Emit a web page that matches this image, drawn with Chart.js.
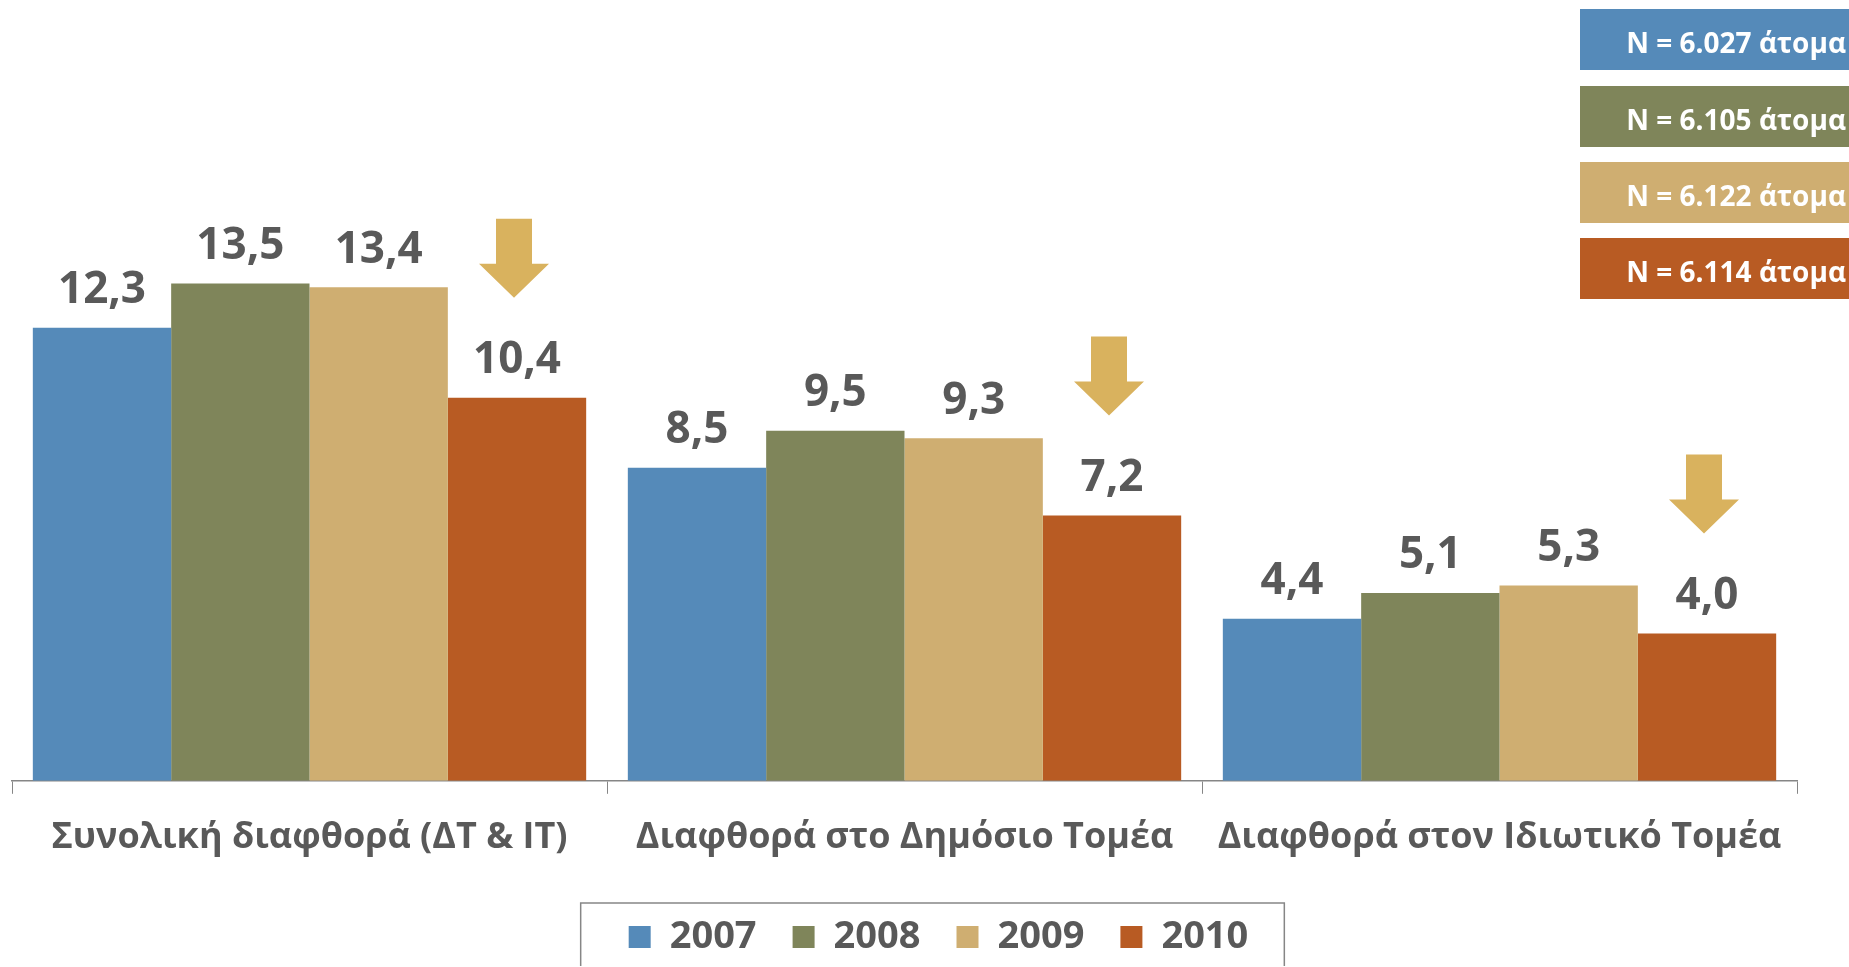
<!DOCTYPE html>
<html lang="el">
<head>
  <meta charset="UTF-8">
  <title>Διαφθορά 2007-2010</title>
  <script src="https://cdn.jsdelivr.net/npm/chart.js"></script>
  <style>
    html, body { margin: 0; padding: 0; background: #fff; overflow: hidden; }
    #wrap { width: 1849px; height: 966px; position: relative; }
  </style>
</head>
<body>
<div id="wrap"><canvas id="grafico"></canvas></div>

<script>
// dados
const categorias = ['Συνολική διαφθορά (ΔΤ & ΙΤ)', 'Διαφθορά στο Δημόσιο Τομέα', 'Διαφθορά στον Ιδιωτικό Τομέα'];
const anos = ['2007', '2008', '2009', '2010'];
const v2007 = [12.3, 8.5, 4.4];
const v2008 = [13.5, 9.5, 5.1];
const v2009 = [13.4, 9.3, 5.3];
const v2010 = [10.4, 7.2, 4.0];
const amostras = ['N = 6.027 άτομα', 'N = 6.105 άτομα', 'N = 6.122 άτομα', 'N = 6.114 άτομα'];
const cores = ['#558AB9', '#7F855A', '#CFAE71', '#B85B23'];
const corSeta = '#D9B25E';
const corTexto = '#595959';
const fonte = '"Open Sans", "Noto Sans", sans-serif';

const series = [v2007, v2008, v2009, v2010];

// rótulos de valor em cima das barras
const rotulos = {
  id: 'rotulos',
  afterDatasetsDraw(chart) {
    const ctx = chart.ctx;
    ctx.save();
    ctx.fillStyle = corTexto;
    ctx.font = 'bold 44px ' + fonte;
    ctx.textAlign = 'center';
    ctx.textBaseline = 'bottom';
    chart.data.datasets.forEach((ds, i) => {
      chart.getDatasetMeta(i).data.forEach((bar, j) => {
        const txt = ds.data[j].toFixed(1).replace('.', ',');
        ctx.fillText(txt, bar.x, bar.y - 15);
      });
    });
    ctx.restore();
  }
};

// setas de descida sobre as barras de 2010
const setas = {
  id: 'setas',
  afterDatasetsDraw(chart) {
    const ctx = chart.ctx;
    const meta = chart.getDatasetMeta(3);
    ctx.save();
    ctx.fillStyle = corSeta;
    meta.data.forEach(bar => {
      const cx = bar.x - 3;
      const base = bar.y - 100;
      ctx.beginPath();
      ctx.moveTo(cx - 18, base - 79);
      ctx.lineTo(cx + 18, base - 79);
      ctx.lineTo(cx + 18, base - 34);
      ctx.lineTo(cx + 35, base - 34);
      ctx.lineTo(cx, base);
      ctx.lineTo(cx - 35, base - 34);
      ctx.lineTo(cx - 18, base - 34);
      ctx.closePath();
      ctx.fill();
    });
    ctx.restore();
  }
};

// a legenda fica um pouco à direita do centro
const deslocaLegenda = {
  id: 'deslocaLegenda',
  afterLayout(chart) {
    chart.legend.left += 34;
    chart.legend.right += 34;
  }
};

// caixas com o tamanho da amostra + moldura da legenda
const extras = {
  id: 'extras',
  afterDraw(chart) {
    const ctx = chart.ctx;
    ctx.save();
    const topos = [9, 86, 162, 238];
    amostras.forEach((t, i) => {
      ctx.fillStyle = cores[i];
      ctx.fillRect(1580, topos[i], 280, 61);
      ctx.fillStyle = '#fff';
      ctx.font = 'bold 28px ' + fonte;
      ctx.textAlign = 'right';
      ctx.textBaseline = 'middle';
      ctx.fillText(t, 1846, topos[i] + 36);
    });
    const hb = chart.legend.legendHitBoxes;
    if (hb && hb.length) {
      const ultimo = hb[hb.length - 1];
      const x0 = hb[0].left - 48;
      const x1 = ultimo.left + ultimo.width + 36;
      const y0 = hb[0].top + hb[0].height / 2 - 34;
      ctx.strokeStyle = '#868686';
      ctx.lineWidth = 1.5;
      ctx.strokeRect(x0, y0, x1 - x0, 140);
    }
    ctx.restore();
  }
};

new Chart(document.getElementById('grafico'), {
  type: 'bar',
  data: {
    labels: categorias,
    datasets: series.map((s, i) => ({
      label: anos[i],
      data: s,
      backgroundColor: cores[i],
      borderWidth: 0,
      barPercentage: 1,
      categoryPercentage: 0.93
    }))
  },
  options: {
    responsive: true,
    maintainAspectRatio: false,
    animation: false,
    layout: { padding: { top: 44, left: 12, right: 52, bottom: 0 } },
    plugins: {
      tooltip: { enabled: false },
      legend: {
        position: 'bottom',
        labels: {
          color: corTexto,
          font: { family: fonte, size: 38, weight: 'bold' },
          boxWidth: 22,
          boxHeight: 22,
          padding: 36
        }
      }
    },
    scales: {
      x: {
        grid: { display: true, drawOnChartArea: false, drawTicks: true, tickLength: 13, color: '#868686', offset: true },
        border: { display: true, color: '#868686', width: 1.5 },
        ticks: { color: corTexto, font: { family: fonte, size: 36, weight: 'bold', lineHeight: 1.45 }, padding: 18 }
      },
      y: { display: false, min: 0, max: 20 }
    }
  },
  plugins: [deslocaLegenda, rotulos, setas, extras]
});
</script>
</body>
</html>
